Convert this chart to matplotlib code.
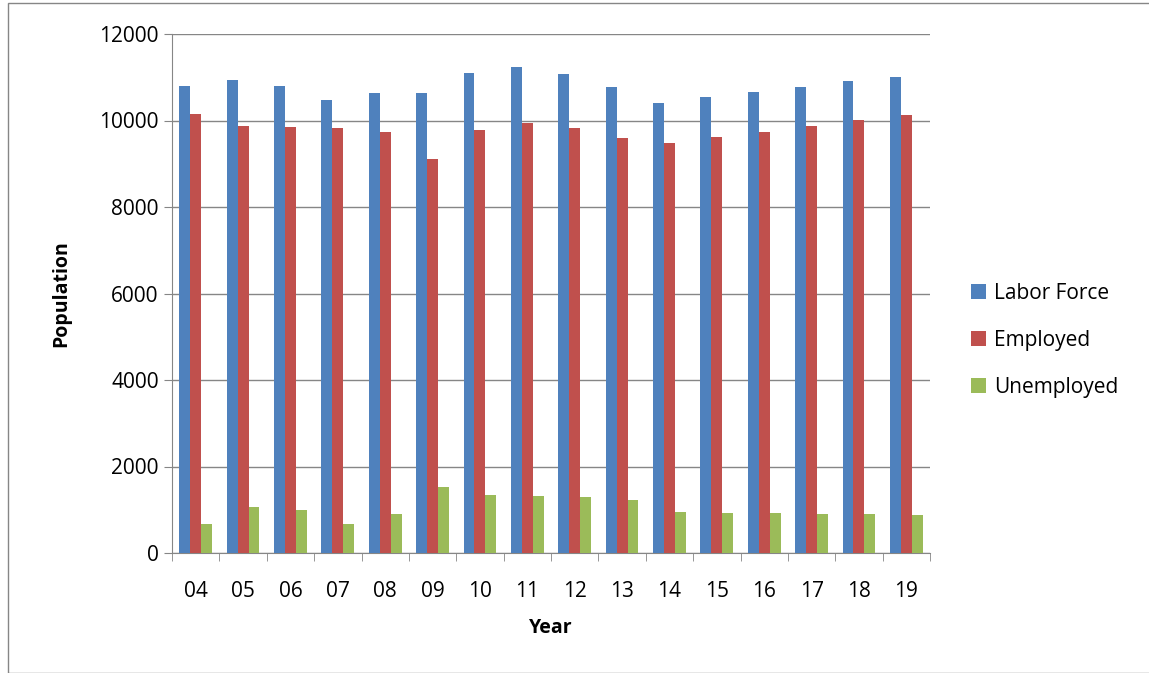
import matplotlib.pyplot as plt
import numpy as np

years = ["04", "05", "06", "07", "08", "09", "10", "11", "12", "13", "14", "15", "16", "17", "18", "19"]
labor_force = [10800, 10940, 10800, 10475, 10635, 10635, 11100, 11240, 11075, 10775, 10405, 10545, 10660, 10775, 10915, 11005]
employed = [10150, 9870, 9850, 9825, 9735, 9110, 9780, 9940, 9825, 9595, 9480, 9620, 9735, 9870, 10010, 10125]
unemployed = [670, 1065, 995, 670, 900, 1525, 1340, 1320, 1295, 1225, 950, 925, 925, 900, 900, 880]

BLUE = "#4F81BD"
RED = "#C0504D"
GREEN = "#9BBB59"
FONT = "Open Sans"

fig = plt.figure(figsize=(11.49, 6.73), dpi=100)
ax = fig.add_axes([172 / 1149, 1 - 553 / 673, (930 - 172) / 1149, (553 - 34) / 673])

x = np.arange(len(years))
w = 0.23
ax.bar(x - w, labor_force, w, color=BLUE, label="Labor Force", zorder=3)
ax.bar(x, employed, w, color=RED, label="Employed", zorder=3)
ax.bar(x + w, unemployed, w, color=GREEN, label="Unemployed", zorder=3)

ax.set_xlim(-0.5, len(years) - 0.5)
ax.set_ylim(0, 12000)
ax.set_yticks(range(0, 12001, 2000))
ax.set_xticks(x)
ax.set_xticklabels(years, fontsize=15, family=FONT)
ax.set_xticks(np.arange(-0.5, len(years)), minor=True)
ax.tick_params(axis="x", which="major", length=0, pad=20)
ax.tick_params(axis="x", which="minor", length=6, color="#868686")
ax.tick_params(axis="y", length=6, color="#868686", labelsize=15)
for t in ax.get_yticklabels():
    t.set_family(FONT)
ax.grid(axis="y", color="#868686", linewidth=1, zorder=0)
for s in ["top", "right"]:
    ax.spines[s].set_visible(False)
for s in ["left", "bottom"]:
    ax.spines[s].set_color("#868686")

ax.set_xlabel("Year", fontsize=14, fontweight="bold", family=FONT, labelpad=12)
ax.set_ylabel("Population", fontsize=14, fontweight="bold", family=FONT, labelpad=20)

ax.legend(loc="center left", bbox_to_anchor=(1.03, 0.41), frameon=False,
          prop={"family": FONT, "size": 15}, handlelength=0.7, handleheight=0.7,
          handletextpad=0.4, labelspacing=1.25)

fig.patches.append(plt.Rectangle((8 / 1149, 0), 1, 1 - 3 / 673,
                                 transform=fig.transFigure, fill=False,
                                 edgecolor="#868686", linewidth=1))

fig.savefig("out.png", facecolor="white")
